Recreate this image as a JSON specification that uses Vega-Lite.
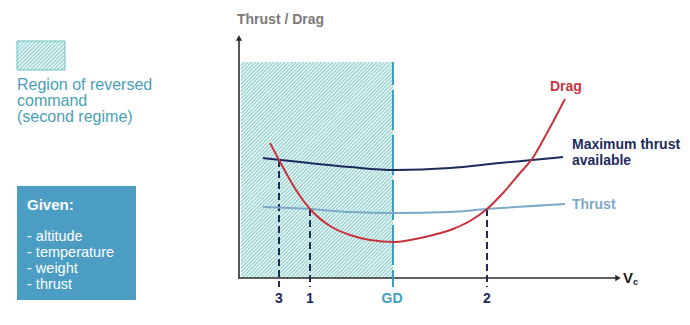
{
  "$schema": "https://vega.github.io/schema/vega-lite/v6.json",
  "width": 690,
  "height": 325,
  "padding": 0,
  "autosize": {"type": "none"},
  "background": "white",
  "config": {"view": {"stroke": null}, "text": {"font": "Liberation Sans"}},
  "encoding": {
    "x": {"field": "x", "type": "quantitative", "scale": {"domain": [-239, 451], "nice": false, "zero": false}, "axis": null},
    "y": {"field": "y", "type": "quantitative", "scale": {"domain": [-47, 278], "nice": false, "zero": false}, "axis": null}
  },
  "layer": [
    {
      "data": {"values": [{"x": 2, "x2": 154, "y": 216, "y2": 0}]},
      "mark": {"type": "rect", "fill": {"gradient": "linear", "x1": 0, "y1": 0, "x2": 0.802, "y2": 1.139, "stops": [
        {"offset":0,"color":"#86cdca"},{"offset":0.005,"color":"#ffffff"},{"offset":0.01,"color":"#86cdca"},{"offset":0.015,"color":"#ffffff"},{"offset":0.02,"color":"#86cdca"},{"offset":0.025,"color":"#ffffff"},{"offset":0.03,"color":"#86cdca"},{"offset":0.035,"color":"#ffffff"},{"offset":0.04,"color":"#86cdca"},{"offset":0.045,"color":"#ffffff"},
        {"offset":0.05,"color":"#86cdca"},{"offset":0.055,"color":"#ffffff"},{"offset":0.06,"color":"#86cdca"},{"offset":0.065,"color":"#ffffff"},{"offset":0.07,"color":"#86cdca"},{"offset":0.075,"color":"#ffffff"},{"offset":0.08,"color":"#86cdca"},{"offset":0.085,"color":"#ffffff"},{"offset":0.09,"color":"#86cdca"},{"offset":0.095,"color":"#ffffff"},
        {"offset":0.1,"color":"#86cdca"},{"offset":0.105,"color":"#ffffff"},{"offset":0.11,"color":"#86cdca"},{"offset":0.115,"color":"#ffffff"},{"offset":0.12,"color":"#86cdca"},{"offset":0.125,"color":"#ffffff"},{"offset":0.13,"color":"#86cdca"},{"offset":0.135,"color":"#ffffff"},{"offset":0.14,"color":"#86cdca"},{"offset":0.145,"color":"#ffffff"},
        {"offset":0.15,"color":"#86cdca"},{"offset":0.155,"color":"#ffffff"},{"offset":0.16,"color":"#86cdca"},{"offset":0.165,"color":"#ffffff"},{"offset":0.17,"color":"#86cdca"},{"offset":0.175,"color":"#ffffff"},{"offset":0.18,"color":"#86cdca"},{"offset":0.185,"color":"#ffffff"},{"offset":0.19,"color":"#86cdca"},{"offset":0.195,"color":"#ffffff"},
        {"offset":0.2,"color":"#86cdca"},{"offset":0.205,"color":"#ffffff"},{"offset":0.21,"color":"#86cdca"},{"offset":0.215,"color":"#ffffff"},{"offset":0.22,"color":"#86cdca"},{"offset":0.225,"color":"#ffffff"},{"offset":0.23,"color":"#86cdca"},{"offset":0.235,"color":"#ffffff"},{"offset":0.24,"color":"#86cdca"},{"offset":0.245,"color":"#ffffff"},
        {"offset":0.25,"color":"#86cdca"},{"offset":0.255,"color":"#ffffff"},{"offset":0.26,"color":"#86cdca"},{"offset":0.265,"color":"#ffffff"},{"offset":0.27,"color":"#86cdca"},{"offset":0.275,"color":"#ffffff"},{"offset":0.28,"color":"#86cdca"},{"offset":0.285,"color":"#ffffff"},{"offset":0.29,"color":"#86cdca"},{"offset":0.295,"color":"#ffffff"},
        {"offset":0.3,"color":"#86cdca"},{"offset":0.305,"color":"#ffffff"},{"offset":0.31,"color":"#86cdca"},{"offset":0.315,"color":"#ffffff"},{"offset":0.32,"color":"#86cdca"},{"offset":0.325,"color":"#ffffff"},{"offset":0.33,"color":"#86cdca"},{"offset":0.335,"color":"#ffffff"},{"offset":0.34,"color":"#86cdca"},{"offset":0.345,"color":"#ffffff"},
        {"offset":0.35,"color":"#86cdca"},{"offset":0.355,"color":"#ffffff"},{"offset":0.36,"color":"#86cdca"},{"offset":0.365,"color":"#ffffff"},{"offset":0.37,"color":"#86cdca"},{"offset":0.375,"color":"#ffffff"},{"offset":0.38,"color":"#86cdca"},{"offset":0.385,"color":"#ffffff"},{"offset":0.39,"color":"#86cdca"},{"offset":0.395,"color":"#ffffff"},
        {"offset":0.4,"color":"#86cdca"},{"offset":0.405,"color":"#ffffff"},{"offset":0.41,"color":"#86cdca"},{"offset":0.415,"color":"#ffffff"},{"offset":0.42,"color":"#86cdca"},{"offset":0.425,"color":"#ffffff"},{"offset":0.43,"color":"#86cdca"},{"offset":0.435,"color":"#ffffff"},{"offset":0.44,"color":"#86cdca"},{"offset":0.445,"color":"#ffffff"},
        {"offset":0.45,"color":"#86cdca"},{"offset":0.455,"color":"#ffffff"},{"offset":0.46,"color":"#86cdca"},{"offset":0.465,"color":"#ffffff"},{"offset":0.47,"color":"#86cdca"},{"offset":0.475,"color":"#ffffff"},{"offset":0.48,"color":"#86cdca"},{"offset":0.485,"color":"#ffffff"},{"offset":0.49,"color":"#86cdca"},{"offset":0.495,"color":"#ffffff"},
        {"offset":0.5,"color":"#86cdca"},{"offset":0.505,"color":"#ffffff"},{"offset":0.51,"color":"#86cdca"},{"offset":0.515,"color":"#ffffff"},{"offset":0.52,"color":"#86cdca"},{"offset":0.525,"color":"#ffffff"},{"offset":0.53,"color":"#86cdca"},{"offset":0.535,"color":"#ffffff"},{"offset":0.54,"color":"#86cdca"},{"offset":0.545,"color":"#ffffff"},
        {"offset":0.55,"color":"#86cdca"},{"offset":0.555,"color":"#ffffff"},{"offset":0.56,"color":"#86cdca"},{"offset":0.565,"color":"#ffffff"},{"offset":0.57,"color":"#86cdca"},{"offset":0.575,"color":"#ffffff"},{"offset":0.58,"color":"#86cdca"},{"offset":0.585,"color":"#ffffff"},{"offset":0.59,"color":"#86cdca"},{"offset":0.595,"color":"#ffffff"},
        {"offset":0.6,"color":"#86cdca"},{"offset":0.605,"color":"#ffffff"},{"offset":0.61,"color":"#86cdca"},{"offset":0.615,"color":"#ffffff"},{"offset":0.62,"color":"#86cdca"},{"offset":0.625,"color":"#ffffff"},{"offset":0.63,"color":"#86cdca"},{"offset":0.635,"color":"#ffffff"},{"offset":0.64,"color":"#86cdca"},{"offset":0.645,"color":"#ffffff"},
        {"offset":0.65,"color":"#86cdca"},{"offset":0.655,"color":"#ffffff"},{"offset":0.66,"color":"#86cdca"},{"offset":0.665,"color":"#ffffff"},{"offset":0.67,"color":"#86cdca"},{"offset":0.675,"color":"#ffffff"},{"offset":0.68,"color":"#86cdca"},{"offset":0.685,"color":"#ffffff"},{"offset":0.69,"color":"#86cdca"},{"offset":0.695,"color":"#ffffff"},
        {"offset":0.7,"color":"#86cdca"},{"offset":0.705,"color":"#ffffff"},{"offset":0.71,"color":"#86cdca"},{"offset":0.715,"color":"#ffffff"},{"offset":0.72,"color":"#86cdca"},{"offset":0.725,"color":"#ffffff"},{"offset":0.73,"color":"#86cdca"},{"offset":0.735,"color":"#ffffff"},{"offset":0.74,"color":"#86cdca"},{"offset":0.745,"color":"#ffffff"},
        {"offset":0.75,"color":"#86cdca"},{"offset":0.755,"color":"#ffffff"},{"offset":0.76,"color":"#86cdca"},{"offset":0.765,"color":"#ffffff"},{"offset":0.77,"color":"#86cdca"},{"offset":0.775,"color":"#ffffff"},{"offset":0.78,"color":"#86cdca"},{"offset":0.785,"color":"#ffffff"},{"offset":0.79,"color":"#86cdca"},{"offset":0.795,"color":"#ffffff"},
        {"offset":0.8,"color":"#86cdca"},{"offset":0.805,"color":"#ffffff"},{"offset":0.81,"color":"#86cdca"},{"offset":0.815,"color":"#ffffff"},{"offset":0.82,"color":"#86cdca"},{"offset":0.825,"color":"#ffffff"},{"offset":0.83,"color":"#86cdca"},{"offset":0.835,"color":"#ffffff"},{"offset":0.84,"color":"#86cdca"},{"offset":0.845,"color":"#ffffff"},
        {"offset":0.85,"color":"#86cdca"},{"offset":0.855,"color":"#ffffff"},{"offset":0.86,"color":"#86cdca"},{"offset":0.865,"color":"#ffffff"},{"offset":0.87,"color":"#86cdca"},{"offset":0.875,"color":"#ffffff"},{"offset":0.88,"color":"#86cdca"},{"offset":0.885,"color":"#ffffff"},{"offset":0.89,"color":"#86cdca"},{"offset":0.895,"color":"#ffffff"},
        {"offset":0.9,"color":"#86cdca"},{"offset":0.905,"color":"#ffffff"},{"offset":0.91,"color":"#86cdca"},{"offset":0.915,"color":"#ffffff"},{"offset":0.92,"color":"#86cdca"},{"offset":0.925,"color":"#ffffff"},{"offset":0.93,"color":"#86cdca"},{"offset":0.935,"color":"#ffffff"},{"offset":0.94,"color":"#86cdca"},{"offset":0.945,"color":"#ffffff"},
        {"offset":0.95,"color":"#86cdca"},{"offset":0.955,"color":"#ffffff"},{"offset":0.96,"color":"#86cdca"},{"offset":0.965,"color":"#ffffff"},{"offset":0.97,"color":"#86cdca"},{"offset":0.975,"color":"#ffffff"},{"offset":0.98,"color":"#86cdca"},{"offset":0.985,"color":"#ffffff"},{"offset":0.99,"color":"#86cdca"},{"offset":0.995,"color":"#ffffff"},
        {"offset":1,"color":"#86cdca"}
      ]}},
      "encoding": {"x2": {"field": "x2"}, "y2": {"field": "y2"}}
    },
    {
      "data": {"values": [{"x": -222, "x2": -174, "y": 237, "y2": 208}]},
      "mark": {"type": "rect", "stroke": "#6fc1c6", "strokeWidth": 1, "fill": {"gradient": "linear", "x1": 0, "y1": 0, "x2": 1.175, "y2": 0.71, "stops": [
        {"offset":0,"color":"#86cdca"},{"offset":0.025,"color":"#ffffff"},{"offset":0.05,"color":"#86cdca"},{"offset":0.075,"color":"#ffffff"},{"offset":0.1,"color":"#86cdca"},{"offset":0.125,"color":"#ffffff"},{"offset":0.15,"color":"#86cdca"},{"offset":0.175,"color":"#ffffff"},{"offset":0.2,"color":"#86cdca"},{"offset":0.225,"color":"#ffffff"},
        {"offset":0.25,"color":"#86cdca"},{"offset":0.275,"color":"#ffffff"},{"offset":0.3,"color":"#86cdca"},{"offset":0.325,"color":"#ffffff"},{"offset":0.35,"color":"#86cdca"},{"offset":0.375,"color":"#ffffff"},{"offset":0.4,"color":"#86cdca"},{"offset":0.425,"color":"#ffffff"},{"offset":0.45,"color":"#86cdca"},{"offset":0.475,"color":"#ffffff"},
        {"offset":0.5,"color":"#86cdca"},{"offset":0.525,"color":"#ffffff"},{"offset":0.55,"color":"#86cdca"},{"offset":0.575,"color":"#ffffff"},{"offset":0.6,"color":"#86cdca"},{"offset":0.625,"color":"#ffffff"},{"offset":0.65,"color":"#86cdca"},{"offset":0.675,"color":"#ffffff"},{"offset":0.7,"color":"#86cdca"},{"offset":0.725,"color":"#ffffff"},
        {"offset":0.75,"color":"#86cdca"},{"offset":0.775,"color":"#ffffff"},{"offset":0.8,"color":"#86cdca"},{"offset":0.825,"color":"#ffffff"},{"offset":0.85,"color":"#86cdca"},{"offset":0.875,"color":"#ffffff"},{"offset":0.9,"color":"#86cdca"},{"offset":0.925,"color":"#ffffff"},{"offset":0.95,"color":"#86cdca"},{"offset":0.975,"color":"#ffffff"},
        {"offset":1,"color":"#86cdca"}
      ]}},
      "encoding": {"x2": {"field": "x2"}, "y2": {"field": "y2"}}
    },
    {
      "data": {"values": [{"x": -222, "x2": -103, "y": 92, "y2": -22}]},
      "mark": {"type": "rect", "fill": "#4b9dc4"},
      "encoding": {"x2": {"field": "x2"}, "y2": {"field": "y2"}}
    },
    {
      "data": {"values": [{"x": 0, "y": -1, "y2": 238}]},
      "mark": {"type": "rule", "color": "#2b2b2b", "strokeWidth": 1.6},
      "encoding": {"y2": {"field": "y2"}}
    },
    {
      "data": {"values": [{"x": 0, "x2": 377, "y": 0}]},
      "mark": {"type": "rule", "color": "#2b2b2b", "strokeWidth": 1.6},
      "encoding": {"x2": {"field": "x2"}}
    },
    {
      "data": {"values": [{"x": 0, "y": 240}]},
      "mark": {"type": "point", "shape": "triangle-up", "filled": true, "size": 40, "color": "#2b2b2b", "opacity": 1},
      "encoding": {}
    },
    {
      "data": {"values": [{"x": 379, "y": 0}]},
      "mark": {"type": "point", "shape": "triangle-right", "filled": true, "size": 40, "color": "#2b2b2b", "opacity": 1},
      "encoding": {}
    },
    {
      "data": {"values": [{"x": 154, "y": 216, "y2": -9}]},
      "mark": {"type": "rule", "color": "#3d9fbf", "strokeWidth": 2, "strokeDash": [40, 5], "strokeDashOffset": 17},
      "encoding": {"y2": {"field": "y2"}}
    },
    {
      "data": {"values": [{"x": 40, "y": 118, "y2": -9}, {"x": 71, "y": 69, "y2": -9}, {"x": 248, "y": 69, "y2": -9}]},
      "mark": {"type": "rule", "color": "#1b2b5e", "strokeWidth": 2, "strokeDash": [7, 4]},
      "encoding": {"y2": {"field": "y2"}}
    },
    {
      "data": {"values": [{"x": 24, "y": 71}, {"x": 71, "y": 69}, {"x": 111, "y": 66}, {"x": 156, "y": 65}, {"x": 211, "y": 66}, {"x": 248, "y": 69}, {"x": 326, "y": 74}]},
      "mark": {"type": "line", "color": "#7ea9c6", "strokeWidth": 2, "interpolate": "monotone"},
      "encoding": {}
    },
    {
      "data": {"values": [{"x": 24, "y": 120}, {"x": 61, "y": 116}, {"x": 111, "y": 111}, {"x": 156, "y": 108}, {"x": 211, "y": 110}, {"x": 261, "y": 115}, {"x": 293, "y": 118}, {"x": 324, "y": 121}]},
      "mark": {"type": "line", "color": "#1b2b5e", "strokeWidth": 2, "interpolate": "monotone"},
      "encoding": {}
    },
    {
      "data": {"values": [{"x": 31, "y": 135}, {"x": 40, "y": 118}, {"x": 51, "y": 98}, {"x": 61, "y": 82}, {"x": 71, "y": 69}, {"x": 91, "y": 52}, {"x": 111, "y": 43}, {"x": 131, "y": 38}, {"x": 156, "y": 36}, {"x": 181, "y": 40}, {"x": 214, "y": 49}, {"x": 231, "y": 57}, {"x": 248, "y": 69}, {"x": 264, "y": 85}, {"x": 281, "y": 105}, {"x": 293, "y": 119}, {"x": 308, "y": 145}, {"x": 326, "y": 179}]},
      "mark": {"type": "line", "color": "#c8333f", "strokeWidth": 2, "interpolate": "monotone"},
      "encoding": {}
    },
    {
      "data": {"values": [{"x": -2, "y": 258, "label": "Thrust / Drag"}]},
      "mark": {"type": "text", "align": "left", "baseline": "middle", "fontSize": 14, "fontWeight": "bold", "color": "#7a7a7a"},
      "encoding": {"text": {"field": "label"}}
    },
    {
      "data": {"values": [{"x": 311, "y": 191, "label": "Drag"}]},
      "mark": {"type": "text", "align": "left", "baseline": "middle", "fontSize": 14, "fontWeight": "bold", "color": "#c8333f"},
      "encoding": {"text": {"field": "label"}}
    },
    {
      "data": {"values": [{"x": 333, "y": 133, "label": "Maximum thrust"}, {"x": 333, "y": 117, "label": "available"}]},
      "mark": {"type": "text", "align": "left", "baseline": "middle", "fontSize": 14, "fontWeight": "bold", "color": "#1b2b5e"},
      "encoding": {"text": {"field": "label"}}
    },
    {
      "data": {"values": [{"x": 333, "y": 73, "label": "Thrust"}]},
      "mark": {"type": "text", "align": "left", "baseline": "middle", "fontSize": 14, "fontWeight": "bold", "color": "#7ea9c6"},
      "encoding": {"text": {"field": "label"}}
    },
    {
      "data": {"values": [{"x": 384, "y": 0, "label": "V"}]},
      "mark": {"type": "text", "align": "left", "baseline": "middle", "fontSize": 15, "fontWeight": "bold", "color": "#1a1a1a"},
      "encoding": {"text": {"field": "label"}}
    },
    {
      "data": {"values": [{"x": 394, "y": -4, "label": "c"}]},
      "mark": {"type": "text", "align": "left", "baseline": "middle", "fontSize": 9, "fontWeight": "bold", "color": "#1a1a1a"},
      "encoding": {"text": {"field": "label"}}
    },
    {
      "data": {"values": [{"x": 40, "y": -21, "label": "3"}, {"x": 71, "y": -21, "label": "1"}, {"x": 248, "y": -21, "label": "2"}]},
      "mark": {"type": "text", "align": "center", "baseline": "middle", "fontSize": 14, "fontWeight": "bold", "color": "#1b2b5e"},
      "encoding": {"text": {"field": "label"}}
    },
    {
      "data": {"values": [{"x": 153, "y": -21, "label": "GD"}]},
      "mark": {"type": "text", "align": "center", "baseline": "middle", "fontSize": 14, "fontWeight": "bold", "color": "#3d9fbf"},
      "encoding": {"text": {"field": "label"}}
    },
    {
      "data": {"values": [{"x": -222, "y": 193, "label": "Region of reversed"}, {"x": -222, "y": 177, "label": "command"}, {"x": -222, "y": 161, "label": "(second regime)"}]},
      "mark": {"type": "text", "align": "left", "baseline": "middle", "fontSize": 16, "color": "#4a9fb6"},
      "encoding": {"text": {"field": "label"}}
    },
    {
      "data": {"values": [{"x": -212, "y": 73, "label": "Given:"}]},
      "mark": {"type": "text", "align": "left", "baseline": "middle", "fontSize": 15, "fontWeight": "bold", "color": "white"},
      "encoding": {"text": {"field": "label"}}
    },
    {
      "data": {"values": [{"x": -212, "y": 41, "label": "- altitude"}, {"x": -212, "y": 25, "label": "- temperature"}, {"x": -212, "y": 9, "label": "- weight"}, {"x": -212, "y": -7, "label": "- thrust"}]},
      "mark": {"type": "text", "align": "left", "baseline": "middle", "fontSize": 14.5, "color": "white"},
      "encoding": {"text": {"field": "label"}}
    }
  ]
}
